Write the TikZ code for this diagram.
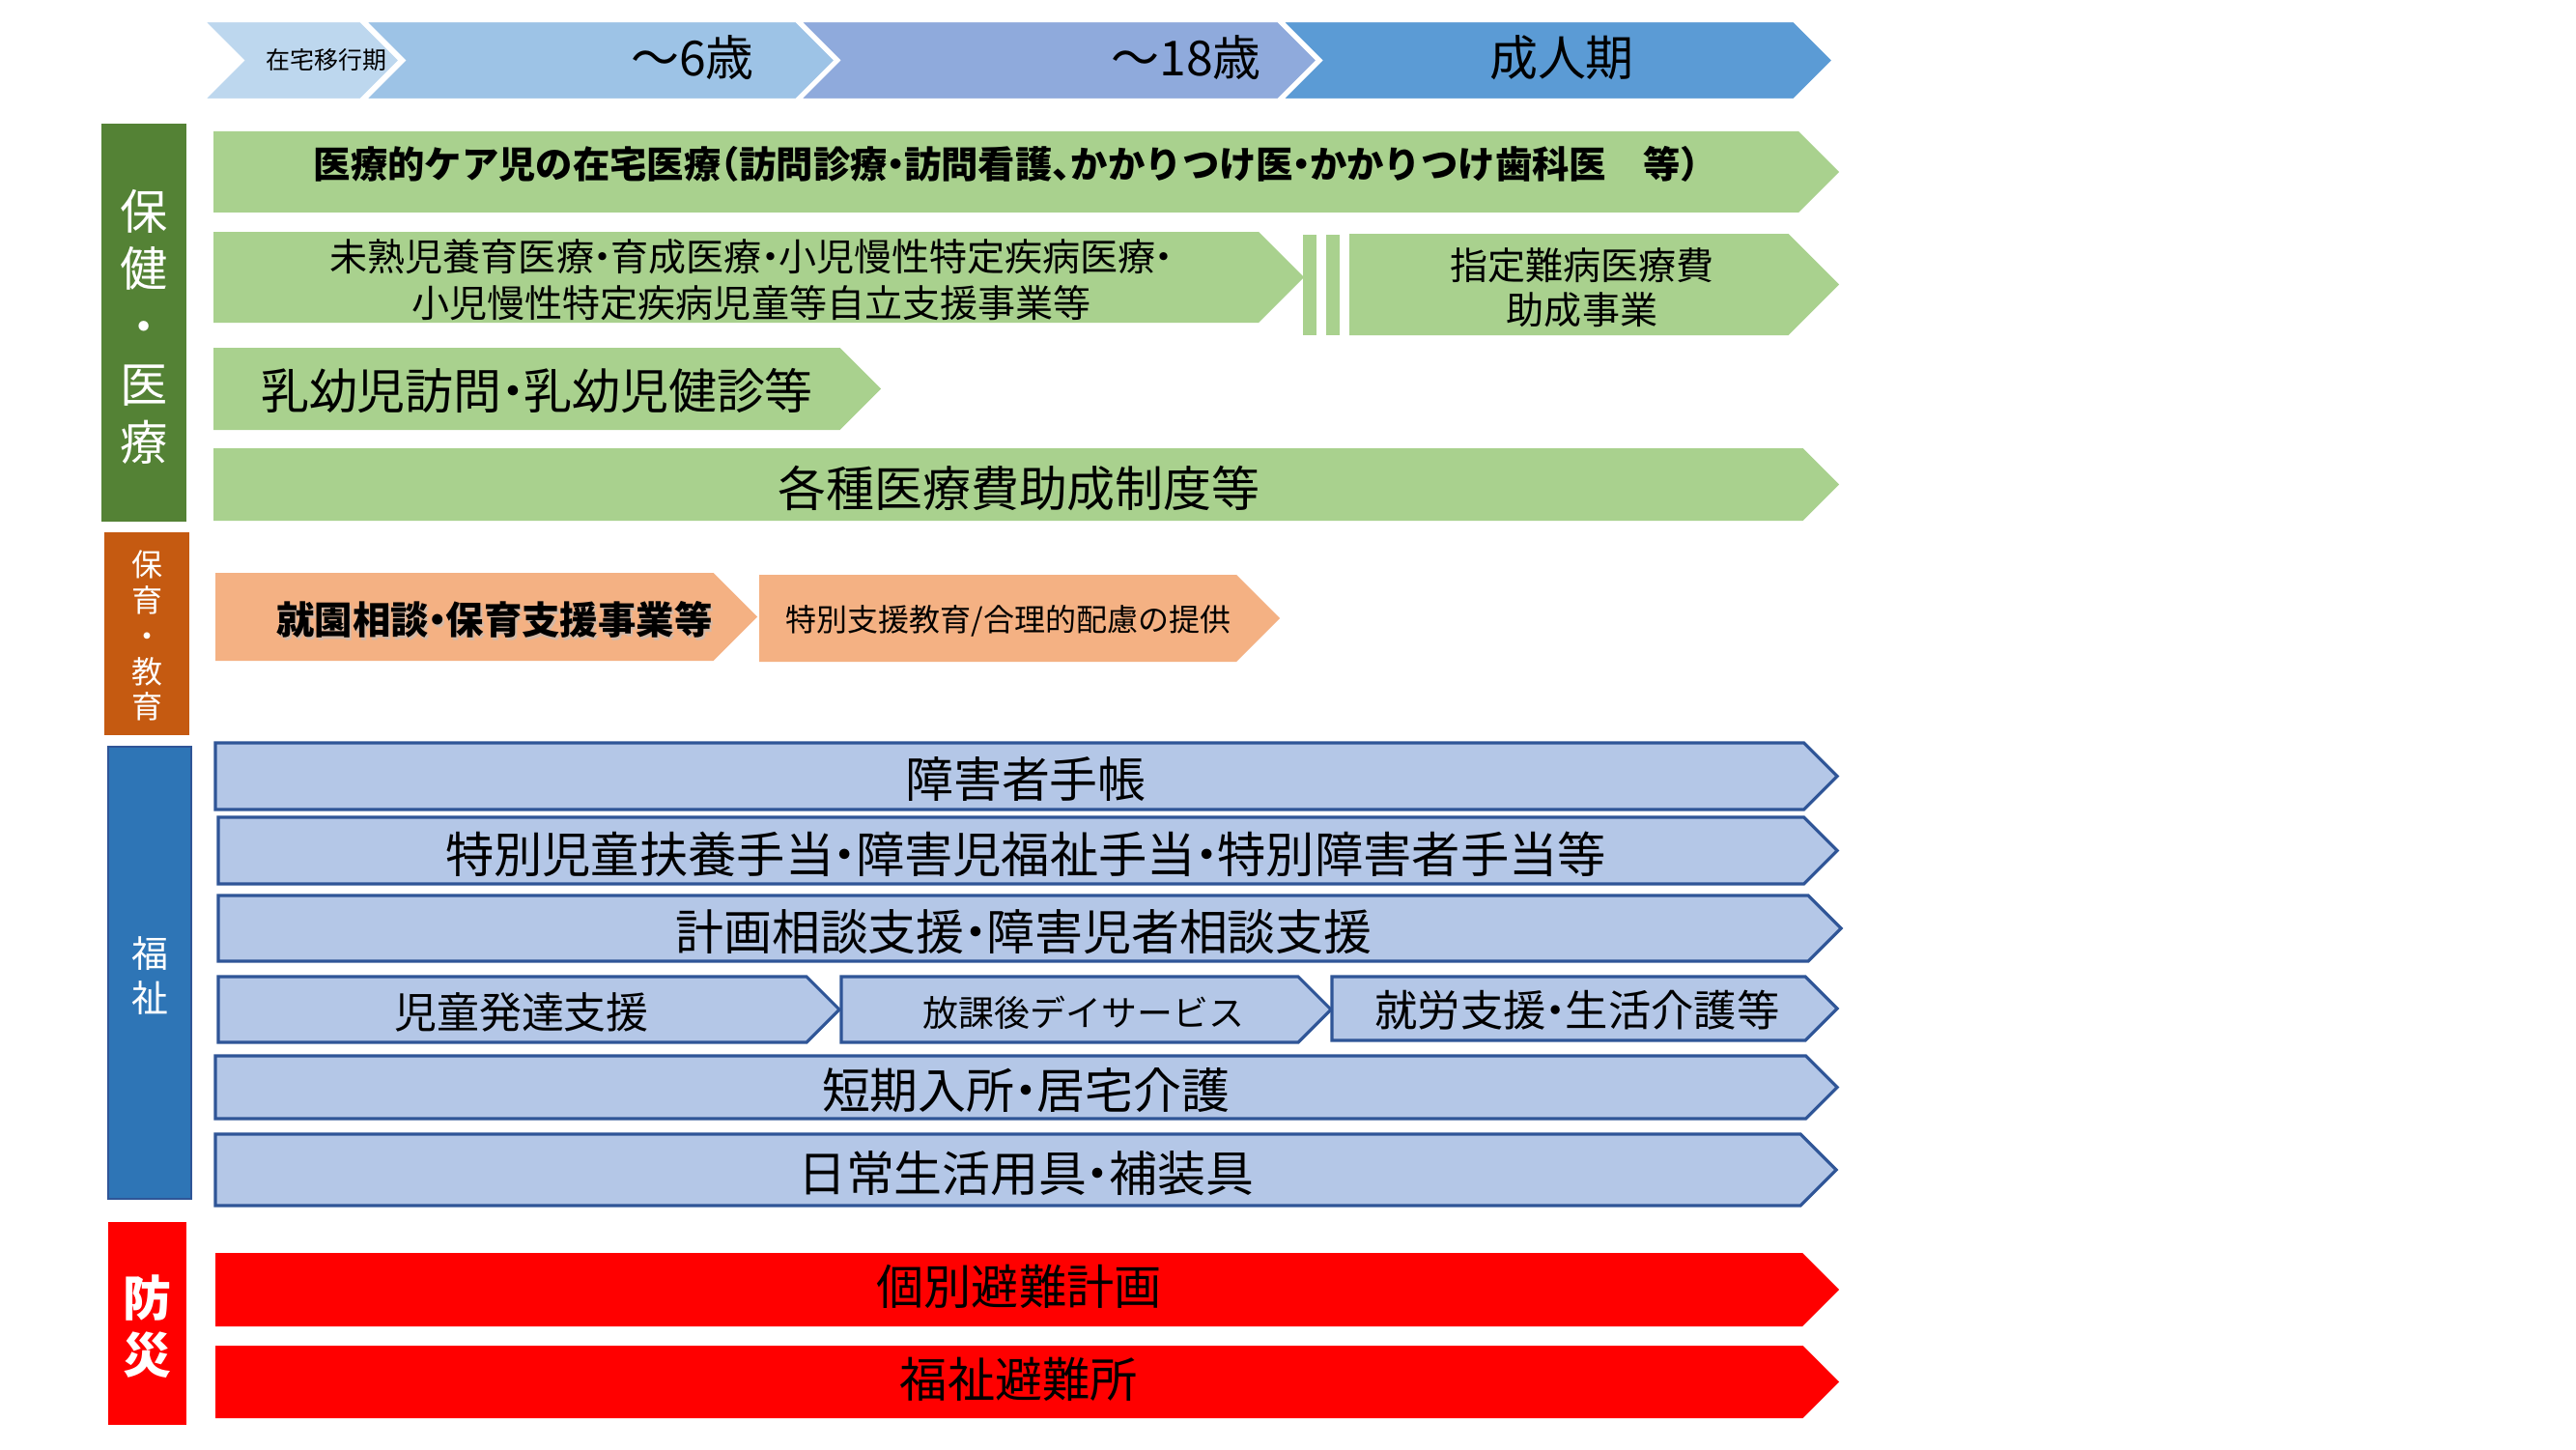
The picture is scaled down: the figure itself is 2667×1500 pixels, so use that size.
\documentclass[tikz,border=0pt]{standalone}
\usepackage{fontspec}
\setmainfont{Noto Sans CJK JP}
\definecolor{tA}{HTML}{BDD7EE}
\definecolor{tB}{HTML}{9DC3E6}
\definecolor{tC}{HTML}{8FAADC}
\definecolor{tD}{HTML}{5B9BD5}
\definecolor{gdark}{HTML}{548235}
\definecolor{gfill}{HTML}{A9D18E}
\definecolor{odark}{HTML}{C55A11}
\definecolor{ofill}{HTML}{F4B183}
\definecolor{bdark}{HTML}{2E75B6}
\definecolor{bfill}{HTML}{B4C7E7}
\definecolor{bline}{HTML}{2F5597}
\definecolor{rfill}{HTML}{FF0000}
\newcommand\fsz[1]{\fontsize{#1pt}{#1pt}\selectfont}
\newcommand\fszl[2]{\fontsize{#1pt}{#2pt}\selectfont}
% narrow punctuation
\newcommand\nd{\makebox[0.45em][c]{・}}
\newcommand\nlp{\makebox[0.5em][r]{（}}
\newcommand\nrp{\makebox[0.5em][l]{）}}
\newcommand\ncm{\makebox[0.5em][l]{、}}
% pentagon (home plate): style, x1, ytop, xtip, ybottom
\newcommand\pent[5]{%
  \pgfmathsetmacro\pgH{(#5-#3)/2}%
  \pgfmathsetmacro\pgC{#4-\pgH}%
  \pgfmathsetmacro\pgM{(#3+#5)/2}%
  \path[#1] (#2,#3) -- (\pgC,#3) -- (#4,\pgM) -- (\pgC,#5) -- (#2,#5) -- cycle;}
% chevron: style, x1, ytop, xtip, ybottom
\newcommand\chev[5]{%
  \pgfmathsetmacro\pgH{(#5-#3)/2}%
  \pgfmathsetmacro\pgC{#4-\pgH}%
  \pgfmathsetmacro\pgM{(#3+#5)/2}%
  \pgfmathsetmacro\pgN{#2+\pgH}%
  \path[#1] (#2,#3) -- (\pgC,#3) -- (#4,\pgM) -- (\pgC,#5) -- (#2,#5) -- (\pgN,\pgM) -- cycle;}
\tikzset{
  tband/.style={fill=#1, draw=white, line width=1.2pt},
  gbar/.style={fill=gfill},
  obar/.style={fill=ofill},
  bbar/.style={fill=bfill, draw=bline, line width=0.9pt, line join=miter},
  rbar/.style={fill=rfill},
  txt/.style={inner sep=0pt, align=center, text=black},
  wtxt/.style={inner sep=0pt, align=center, text=white},
}
\begin{document}
\begin{tikzpicture}[x=0.01cm, y=-0.01cm]
\useasboundingbox (0,0) rectangle (2667,1500);
\fill[white] (0,0) rectangle (2667,1500);

% ---- top age band ----
\chev{tband=tA}{209}{21}{415}{104}
\chev{tband=tB}{376}{21}{866}{104}
\chev{tband=tC}{826}{21}{1365}{104}
\chev{tband=tD}{1325}{21}{1899}{104}
\node[txt, font=\fsz{7.1}] (age0) at (338,62) {在宅移行期};
\node[txt, font=\fsz{14.2}] (age6) at (717,60) {～6歳};
\node[txt, font=\fsz{14.2}] (age18) at (1228,60) {～18歳};
\node[txt, font=\fsz{14.2}] (adult) at (1617,60) {成人期};

% ---- 保健・医療 ----
\fill[gdark] (105,128) rectangle (193,540);
\node[wtxt, font=\fszl{14}{17}] (lhealth) at (149,338) {保\\健\\・\\医\\療};
\pent{gbar}{221}{136}{1904}{220}
\node[txt, font=\bfseries\fsz{10.9}] (g1) at (1042,170) {医療的ケア児の在宅医療\nlp 訪問診療\nd 訪問看護\ncm かかりつけ医\nd かかりつけ歯科医　等\nrp};
\pent{gbar}{221}{240}{1350}{334}
\node[txt, font=\fszl{11.1}{13.7}] (g2) at (778,290) {未熟児養育医療\nd 育成医療\nd 小児慢性特定疾病医療\nd\\小児慢性特定疾病児童等自立支援事業等};
\fill[gfill] (1349,243) rectangle (1363,347);
\fill[gfill] (1373,243) rectangle (1387,347);
\pent{gbar}{1397}{242}{1904}{347}
\node[txt, font=\fszl{11.1}{13.1}] (g2b) at (1638,298) {指定難病医療費\\助成事業};
\pent{gbar}{221}{360}{912}{445}
\node[txt, font=\fsz{14.2}] (g3) at (556,405) {乳幼児訪問\nd 乳幼児健診等};
\pent{gbar}{221}{464}{1904}{539}
\node[txt, font=\fsz{14.2}] (g4) at (1055,505) {各種医療費助成制度等};

% ---- 保育・教育 ----
\fill[odark] (108,551) rectangle (196,761);
\node[wtxt, font=\fszl{9.1}{10.5}] (ledu) at (152,658) {保\\育\\・\\教\\育};
\pent{obar}{223}{593}{784}{684}
\node[txt, text=black!25, opacity=0.6, font=\bfseries\fsz{11.2}] (o1s) at (514,644) {就園相談\nd 保育支援事業等};
\node[txt, font=\bfseries\fsz{11.2}] (o1) at (512,641) {就園相談\nd 保育支援事業等};
\pent{obar}{786}{595}{1325}{685}
\node[txt, font=\fsz{9.1}] (o2) at (1044,643) {特別支援教育/合理的配慮の提供};

% ---- 福祉 ----
\path[fill=bdark, draw=bline, line width=0.6pt] (112,773) rectangle (198,1241);
\node[wtxt, font=\fszl{10.8}{13}] (lwel) at (155,1010) {福\\祉};
\pent{bbar}{223}{769}{1902}{838}
\node[txt, font=\fsz{14.2}] (b1) at (1062,807) {障害者手帳};
\pent{bbar}{226}{846}{1902}{915}
\node[txt, font=\fsz{14.3}] (b2) at (1062,884) {特別児童扶養手当\nd 障害児福祉手当\nd 特別障害者手当等};
\pent{bbar}{226}{927}{1906}{995}
\node[txt, font=\fsz{14.2}] (b3) at (1060,965) {計画相談支援\nd 障害児者相談支援};
\pent{bbar}{226}{1011}{869}{1079}
\node[txt, font=\fsz{12.5}] (b4a) at (540,1048) {児童発達支援};
\pent{bbar}{871}{1011}{1378}{1079}
\node[txt, font=\fsz{10.5}] (b4b) at (1122,1048) {放課後デイサービス};
\pent{bbar}{1379}{1011}{1902}{1077}
\node[txt, font=\fsz{12.6}] (b4c) at (1633,1046) {就労支援\nd 生活介護等};
\pent{bbar}{223}{1093}{1902}{1158}
\node[txt, font=\fsz{14.2}] (b5) at (1062,1129) {短期入所\nd 居宅介護};
\pent{bbar}{223}{1174}{1901}{1248}
\node[txt, font=\fsz{14.2}] (b6) at (1062,1215) {日常生活用具\nd 補装具};

% ---- 防災 ----
\fill[rfill] (112,1265) rectangle (193,1475);
\node[wtxt, font=\bfseries\fszl{14.2}{17}] (ldis) at (152,1373) {防\\災};
\pent{rbar}{223}{1297}{1904}{1373}
\node[txt, font=\fsz{14}] (r1) at (1055,1332) {個別避難計画};
\pent{rbar}{223}{1393}{1904}{1468}
\node[txt, font=\fsz{14}] (r2) at (1055,1428) {福祉避難所};
\end{tikzpicture}
\end{document}
